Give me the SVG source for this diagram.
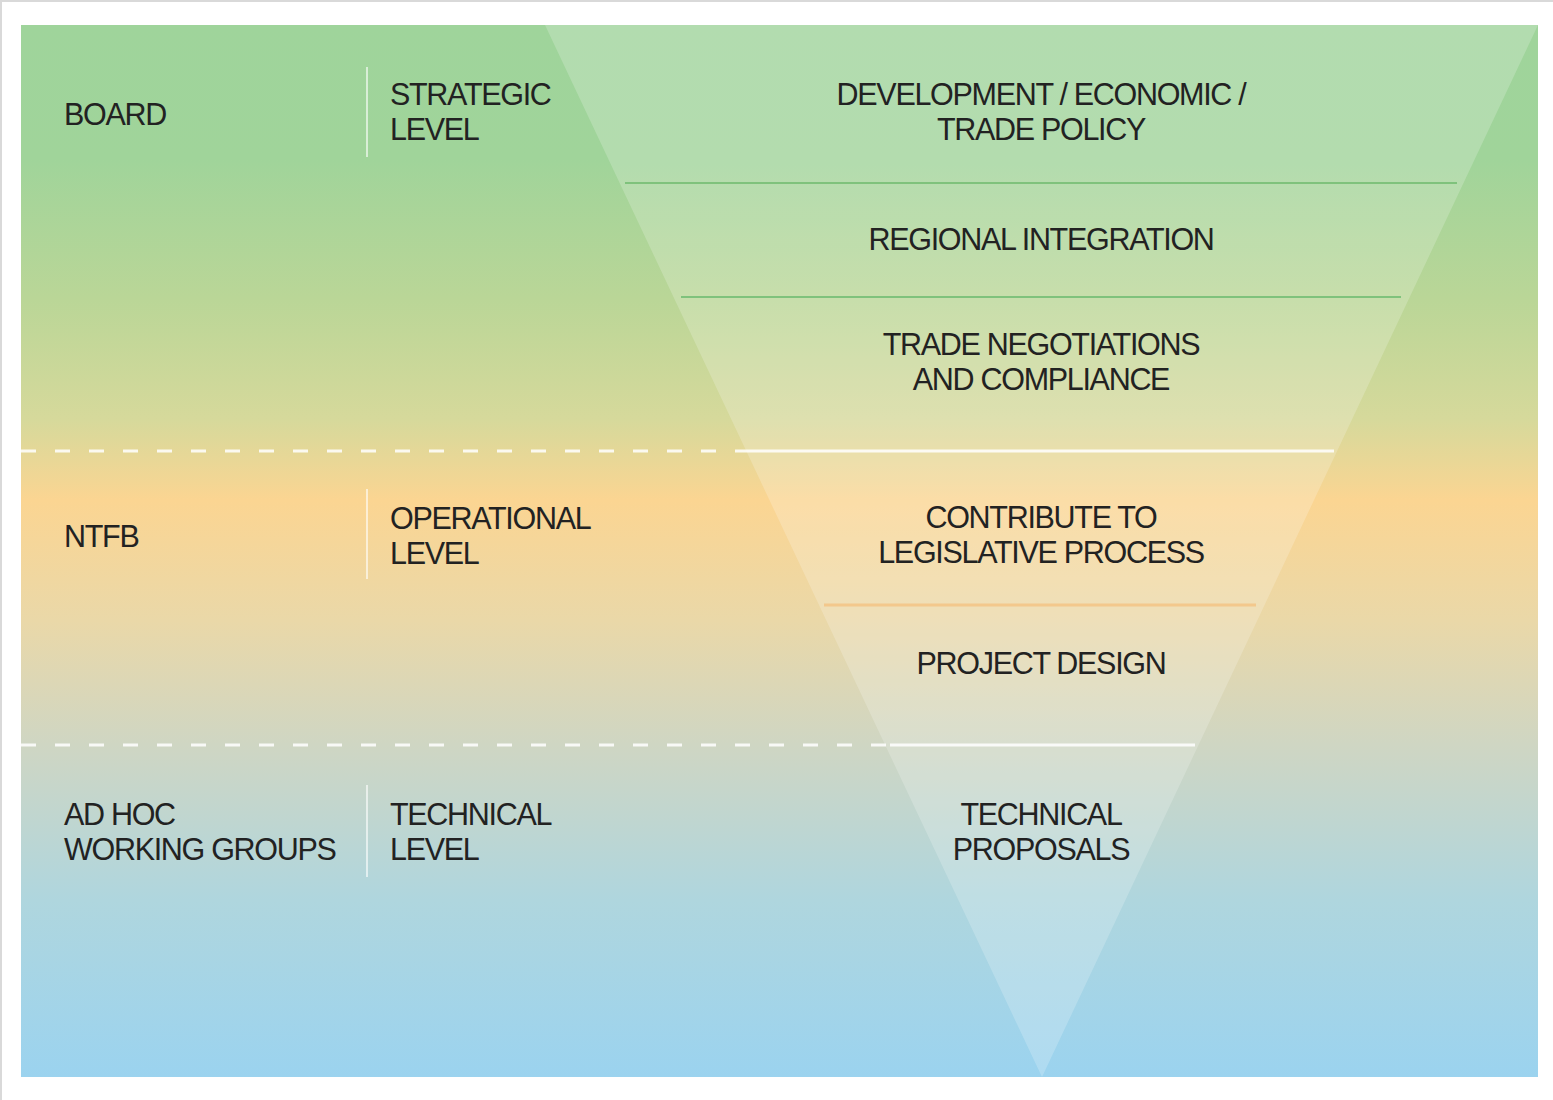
<svg xmlns="http://www.w3.org/2000/svg" width="1553" height="1100" viewBox="0 0 1553 1100">
<defs>
<linearGradient id="bg" x1="0" y1="25" x2="0" y2="1077" gradientUnits="userSpaceOnUse">
<stop offset="0" stop-color="#9fd49b"/>
<stop offset="0.128" stop-color="#a0d49a"/>
<stop offset="0.261" stop-color="#bad697"/>
<stop offset="0.375" stop-color="#d6d99b"/>
<stop offset="0.452" stop-color="#fbd592"/>
<stop offset="0.566" stop-color="#ead8a8"/>
<stop offset="0.684" stop-color="#cfd6c3"/>
<stop offset="0.832" stop-color="#afd6de"/>
<stop offset="1" stop-color="#9bd3ef"/>
</linearGradient>
<style>
text{font-family:"Liberation Sans",Arial,sans-serif;font-size:30.5px;fill:#222;letter-spacing:-1.3px}
.c{text-anchor:middle}
.sep{stroke:#ffffff;stroke-opacity:0.6;stroke-width:2}
.dash{stroke:#ffffff;stroke-opacity:0.85;stroke-width:3;stroke-dasharray:15 19}
.solid{stroke:#ffffff;stroke-opacity:0.85;stroke-width:3}
.green{stroke:#7fc27c;stroke-width:2}
.orange{stroke:#f3c88c;stroke-width:3}
</style>
</defs>
<rect x="0" y="0" width="1553" height="1100" fill="#ffffff"/>
<rect x="0" y="0" width="1553" height="2" fill="#d9d9d9"/>
<rect x="0" y="0" width="2" height="1100" fill="#d9d9d9"/>
<rect id="background" x="21" y="25" width="1517" height="1052" fill="url(#bg)"/>
<polygon id="funnel" points="545,25 1538,25 1042,1077" fill="#ffffff" fill-opacity="0.2"/>
<g id="connectors">
<line class="dash" x1="21" y1="451" x2="747" y2="451"/>
<line class="dash" x1="21" y1="745" x2="888" y2="745"/>
<line class="solid" x1="747" y1="451" x2="1334" y2="451"/>
<line class="solid" x1="890" y1="745" x2="1195" y2="745"/>
<line class="green" x1="625" y1="183" x2="1457" y2="183"/>
<line class="green" x1="681" y1="297" x2="1401" y2="297"/>
<line class="orange" x1="824" y1="605" x2="1256" y2="605"/>
<line class="sep" x1="367" y1="67" x2="367" y2="157"/>
<line class="sep" x1="367" y1="489" x2="367" y2="579"/>
<line class="sep" x1="367" y1="785" x2="367" y2="877"/>
</g>
<g id="board"><text x="64" y="125">BOARD</text></g>
<g id="strategic"><text x="390" y="105">STRATEGIC</text><text x="390" y="140">LEVEL</text></g>
<g id="policy"><text class="c" x="1041" y="105">DEVELOPMENT / ECONOMIC /</text><text class="c" x="1041" y="140">TRADE POLICY</text></g>
<g id="regional"><text class="c" x="1041" y="250">REGIONAL INTEGRATION</text></g>
<g id="negotiations"><text class="c" x="1041" y="355">TRADE NEGOTIATIONS</text><text class="c" x="1041" y="390">AND COMPLIANCE</text></g>
<g id="ntfb"><text x="64" y="547">NTFB</text></g>
<g id="operational"><text x="390" y="529">OPERATIONAL</text><text x="390" y="564">LEVEL</text></g>
<g id="legislative"><text class="c" x="1041" y="528">CONTRIBUTE TO</text><text class="c" x="1041" y="563">LEGISLATIVE PROCESS</text></g>
<g id="project"><text class="c" x="1041" y="674">PROJECT DESIGN</text></g>
<g id="adhoc"><text x="64" y="825">AD HOC</text><text x="64" y="860">WORKING GROUPS</text></g>
<g id="technical"><text x="390" y="825">TECHNICAL</text><text x="390" y="860">LEVEL</text></g>
<g id="proposals"><text class="c" x="1041" y="825">TECHNICAL</text><text class="c" x="1041" y="860">PROPOSALS</text></g>
</svg>
